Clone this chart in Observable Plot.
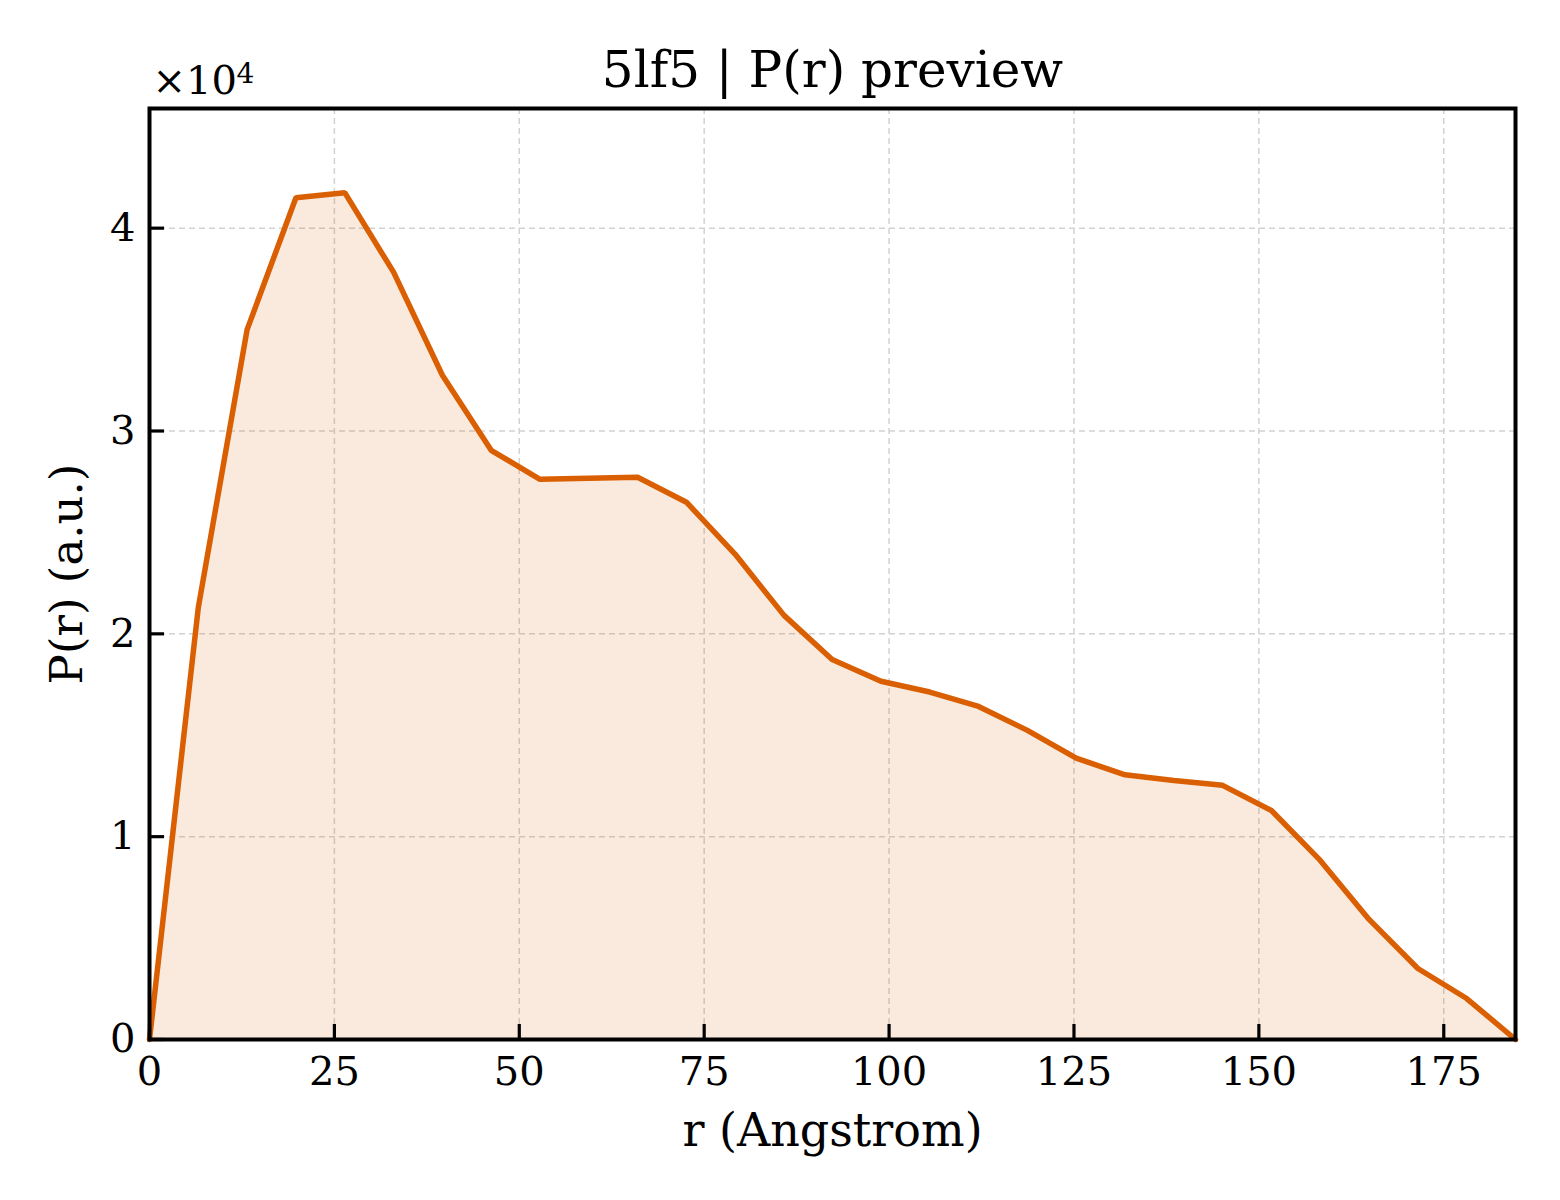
<!DOCTYPE html>
<html>
<head>
<meta charset="utf-8">
<script src="https://cdn.jsdelivr.net/npm/d3@7"></script>
<script src="https://cdn.jsdelivr.net/npm/@observablehq/plot@0.6"></script>
<style>
  html, body { margin: 0; padding: 0; background: #fff; }
</style>
</head>
<body>
<div id="chart"></div>
<script>
const rValues = [0, 6.6, 13.2, 19.8, 26.4, 33.0, 39.6, 46.2, 52.8, 59.4, 66.0, 72.6, 79.2, 85.8, 92.3, 98.9, 105.5, 112.1, 118.7, 125.3, 131.9, 138.5, 145.1, 151.7, 158.3, 164.9, 171.5, 178.1, 184.7];
const pValues = [0, 21300, 35000, 41500, 41750, 37830, 32750, 29050, 27620, 27670, 27720, 26490, 23920, 20910, 18730, 17660, 17130, 16420, 15240, 13870, 13050, 12770, 12530, 11290, 8830, 5920, 3500, 2020, 0];
const xTicks = [0, 25, 50, 75, 100, 125, 150, 175];
const yTicks = [0, 10000, 20000, 30000, 40000];
const titleText = "5lf5 | P(r) preview";
const xLabel = "r (Angstrom)";
const yLabel = "P(r) (a.u.)";
const exponentBase = "×10";
const exponentPower = "4";

const data = rValues.map((r, i) => ({r, p: pValues[i]}));

const W = 1560, H = 1200;
const mL = 149, mR = 45, mT = 108, mB = 161;
const frameW = W - mL - mR, frameH = H - mT - mB;
const col = "#d95f02";
const font = "DejaVu Serif";

const chart = Plot.plot({
  width: W, height: H,
  marginLeft: mL, marginRight: mR, marginTop: mT, marginBottom: mB,
  style: {fontFamily: font, background: "#fff", color: "#000"},
  x: {domain: [0, 184.7]},
  y: {domain: [0, 45900]},
  marks: [
    Plot.gridX(xTicks, {stroke: "#d2d2d2", strokeOpacity: 1, strokeWidth: 1.5, strokeDasharray: "6,4"}),
    Plot.gridY(yTicks, {stroke: "#d2d2d2", strokeOpacity: 1, strokeWidth: 1.5, strokeDasharray: "6,4"}),
    Plot.areaY(data, {x: "r", y: "p", fill: col, fillOpacity: 0.13}),
    Plot.lineY(data, {x: "r", y: "p", stroke: col, strokeWidth: 5.5, strokeLinejoin: "miter"}),
    Plot.tickX(xTicks, {x: d => d, stroke: "#000", strokeWidth: 3.2, insetTop: frameH - 15}),
    Plot.tickY(yTicks, {y: d => d, stroke: "#000", strokeWidth: 3.2, insetRight: frameW - 15}),
    Plot.axisX(xTicks, {tickSize: 0, tickPadding: 17, fontSize: 40, label: null}),
    Plot.axisY(yTicks, {tickSize: 0, tickPadding: 14, fontSize: 40, label: null, tickFormat: d => d / 1e4}),
    Plot.frame({stroke: "#000", strokeWidth: 4}),
    Plot.text([titleText], {frameAnchor: "top", lineAnchor: "bottom", dy: -22, fontSize: 50, fill: "#000"}),
    Plot.text([exponentBase], {frameAnchor: "top-left", textAnchor: "start", lineAnchor: "bottom", dx: 3, dy: -15, fontSize: 40, fill: "#000"}),
    Plot.text([exponentPower], {frameAnchor: "top-left", textAnchor: "start", lineAnchor: "bottom", dx: 87, dy: -26, fontSize: 28, fill: "#000"}),
    Plot.text([xLabel], {frameAnchor: "bottom", lineAnchor: "top", dy: 74, fontSize: 46, fill: "#000"}),
    Plot.text([yLabel], {frameAnchor: "left", textAnchor: "middle", rotate: -90, lineAnchor: "bottom", dx: -68, fontSize: 45, fill: "#000"})
  ]
});
document.getElementById("chart").appendChild(chart);
</script>
</body>
</html>
